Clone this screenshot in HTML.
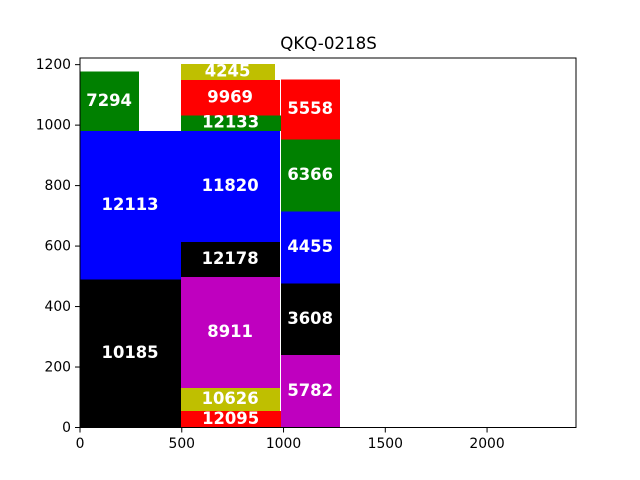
<!DOCTYPE html>
<html>
<head>
<meta charset="utf-8">
<style>
html,body{margin:0;padding:0;background:#fff;width:640px;height:480px;overflow:hidden}
svg{display:block}
text{font-family:"DejaVu Sans","Liberation Sans",sans-serif}
</style>
</head>
<body>
<svg id="chart" width="640" height="480" viewBox="0 0 640 480" xmlns="http://www.w3.org/2000/svg">
  <rect x="0" y="0" width="640" height="480" fill="#ffffff"/>
  <text x="328.5" y="49" font-size="16.67" text-anchor="middle" fill="#000">QKQ-0218S</text>
  <g id="blocks" shape-rendering="crispEdges"></g>
  <g id="labels"></g>
  <g id="x-axis"></g>
  <g id="y-axis"></g>
  <rect x="80" y="58" width="496" height="369.5" fill="none" stroke="#000" stroke-width="1"/>
</svg>
<script>
const xTicks = [0, 500, 1000, 1500, 2000];
const yTicks = [0, 200, 400, 600, 800, 1000, 1200];
const columnStarts = [0, 496, 988];
const columnValues = [
  [10185, 12113, 7294],
  [12095, 10626, 8911, 12178, 11820, 12133, 9969, 4245],
  [5782, 3608, 4455, 6366, 5558]
];
const columnHeights = [
  [490, 490, 197],
  [54, 76, 367, 116, 368, 51, 117, 53],
  [239, 238, 238, 237, 199]
];
const columnWidths = [
  [496, 496, 290],
  [492, 487, 487, 487, 487, 492, 487, 462],
  [290, 290, 290, 290, 290]
];
const columnColors = [
  ['#000000', '#0000ff', '#008000'],
  ['#ff0000', '#bfbf00', '#bf00bf', '#000000', '#0000ff', '#008000', '#ff0000', '#bfbf00'],
  ['#bf00bf', '#000000', '#0000ff', '#008000', '#ff0000']
];

const NS = 'http://www.w3.org/2000/svg';
const plot = { left: 80, right: 576, top: 58, bottom: 427.5 };
const xMax = 2437;
const yMax = 1222;
function xScale(v) { return plot.left + v / xMax * (plot.right - plot.left); }
function yScale(v) { return plot.bottom - v / yMax * (plot.bottom - plot.top); }
function make(tag, attrs) {
  const el = document.createElementNS(NS, tag);
  for (const k in attrs) el.setAttribute(k, attrs[k]);
  return el;
}
const blocksG = document.getElementById('blocks');
const labelsG = document.getElementById('labels');
columnValues.forEach(function (vals, c) {
  let base = 0;
  vals.forEach(function (val, i) {
    const h = columnHeights[c][i];
    const w = columnWidths[c][i];
    const x0 = xScale(columnStarts[c]);
    const x1 = xScale(columnStarts[c] + w);
    const yTop = yScale(base + h);
    const yBot = yScale(base);
    const r = make('rect', { x: x0, y: yTop, width: x1 - x0, height: yBot - yTop, fill: columnColors[c][i] });
    
    
    blocksG.appendChild(r);
    const t = make('text', { x: (x0 + x1) / 2 - 0.4, y: (yTop + yBot) / 2 + 4.5, 'font-size': '16.4', 'font-weight': 'bold', 'text-anchor': 'middle', fill: '#ffffff' });
    
    
    t.textContent = String(val);
    labelsG.appendChild(t);
    base += h;
  });
});
const xAxisG = document.getElementById('x-axis');
xTicks.forEach(function (v) {
  const x = xScale(v);
  const tick = make('line', { x1: x, x2: x, y1: plot.bottom, y2: plot.bottom + 5, stroke: '#000', 'stroke-width': 1 });
  
  
  xAxisG.appendChild(tick);
  const t = make('text', { x: x, y: plot.bottom + 20.5, 'font-size': '13.89', 'text-anchor': 'middle', fill: '#000' });
  
  
  t.textContent = String(v);
  xAxisG.appendChild(t);
});
const yAxisG = document.getElementById('y-axis');
yTicks.forEach(function (v) {
  const y = yScale(v);
  const tick = make('line', { x1: plot.left - 5, x2: plot.left, y1: y, y2: y, stroke: '#000', 'stroke-width': 1 });
  
  
  yAxisG.appendChild(tick);
  const t = make('text', { x: plot.left - 9, y: y + 4.5, 'font-size': '13.89', 'text-anchor': 'end', fill: '#000' });
  
  
  t.textContent = String(v);
  yAxisG.appendChild(t);
});
</script>
</body>
</html>
